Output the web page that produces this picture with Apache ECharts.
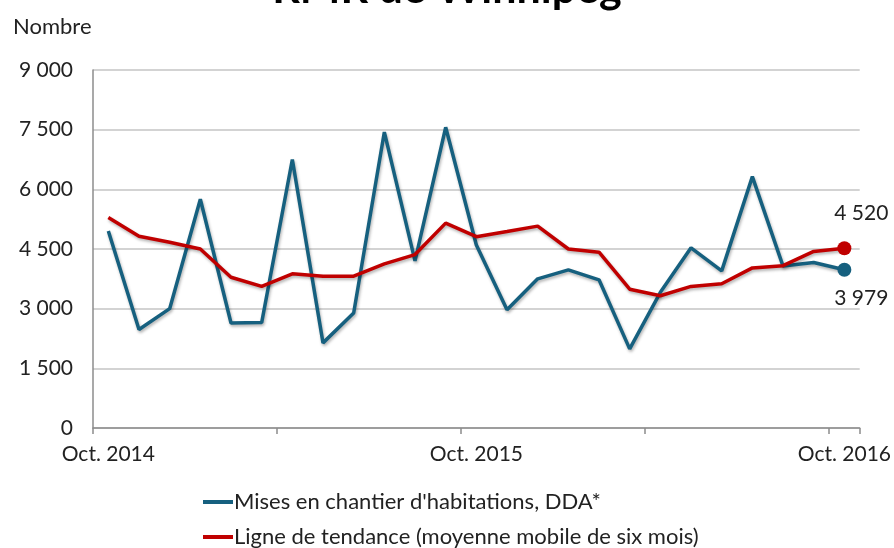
<!DOCTYPE html>
<html>
<head>
<meta charset="utf-8">
<script src="https://cdn.jsdelivr.net/npm/echarts@6/dist/echarts.min.js"></script>
<style>
html,body{margin:0;padding:0;background:#fff;}
#c{width:894px;height:548px;}
</style>
</head>
<body>
<div id="c"></div>
<script>
const titleText = 'RMR de Winnipeg';
const yAxisName = 'Nombre';
const categories = ['Oct. 2014','Nov. 2014','Déc. 2014','Janv. 2015','Févr. 2015','Mars 2015','Avr. 2015','Mai 2015','Juin 2015','Juil. 2015','Août 2015','Sept. 2015','Oct. 2015','Nov. 2015','Déc. 2015','Janv. 2016','Févr. 2016','Mars 2016','Avr. 2016','Mai 2016','Juin 2016','Juil. 2016','Août 2016','Sept. 2016','Oct. 2016'];
const starts = [4950,2475,3000,5750,2640,2650,6750,2140,2890,7440,4200,7560,4600,2975,3750,3975,3725,1990,3410,4530,3950,6320,4070,4160,3979];
const trend = [5290,4820,4670,4500,3790,3560,3875,3815,3815,4125,4360,5150,4810,4940,5075,4500,4420,3490,3325,3560,3625,4025,4080,4440,4520];
const seriesNames = ["Mises en chantier d'habitations, DDA*", 'Ligne de tendance (moyenne mobile de six mois)'];

const FONT = 'Lato';
const fmt = v => String(v).replace(/\B(?=(\d{3})+(?!\d))/g, ' ');
const last = categories.length - 1;

const chart = echarts.init(document.getElementById('c'));
chart.setOption({
  animation: false,
  backgroundColor: '#fff',
  title: {
    text: titleText, left: 'center', top: -37,
    textStyle: {fontFamily: FONT, fontSize: 43, fontWeight: 'bold', color: '#000'}
  },
  grid: {left: 93, right: 34, top: 70, bottom: 120},
  legend: {
    orient: 'vertical', left: 203, top: 491, padding: 0,
    icon: 'rect', itemWidth: 30, itemHeight: 4, itemGap: 13,
    textStyle: {fontFamily: FONT, fontSize: 22, color: '#222', lineHeight: 22, padding: [0,0,0,-4]},
    data: seriesNames
  },
  xAxis: {
    type: 'category', data: categories, boundaryGap: true,
    axisLine: {lineStyle: {color: '#8c8c8c', width: 1.5}},
    axisTick: {show: true, interval: (i) => i % 6 === 0, length: 6, lineStyle: {color: '#8c8c8c', width: 1.5}},
    axisLabel: {interval: (i) => i % 12 === 0, fontFamily: FONT, fontSize: 21, color: '#222', margin: 16},
    splitLine: {show: false}
  },
  yAxis: {
    type: 'value', min: 0, max: 9000, interval: 1500,
    name: yAxisName, nameLocation: 'end', nameGap: 0,
    nameTextStyle: {fontFamily: FONT, fontSize: 22, color: '#222', align: 'left', padding: [0,0,32,-80]},
    axisLine: {show: true, lineStyle: {color: '#8c8c8c', width: 1.5}},
    axisTick: {show: false},
    axisLabel: {fontFamily: FONT, fontSize: 21, color: '#222', margin: 20, formatter: v => fmt(v)},
    splitLine: {lineStyle: {color: '#c4c4c4', width: 1.5}}
  },
  series: [
    {
      name: seriesNames[0], type: 'line', data: starts,
      color: '#16607f',
      lineStyle: {width: 3.5, color: '#16607f', shadowColor: 'rgba(0,0,0,0.3)', shadowBlur: 3, shadowOffsetX: 1, shadowOffsetY: 2},
      symbol: 'circle', showSymbol: true, showAllSymbol: true,
      symbolSize: (v, p) => p.dataIndex === last ? 14 : 0,
      itemStyle: {color: '#16607f'},
      label: {show: true, position: 'bottom', offset: [17, 6], fontFamily: FONT, fontSize: 21, color: '#222',
        formatter: p => p.dataIndex === last ? fmt(p.value) : ''},
      z: 2
    },
    {
      name: seriesNames[1], type: 'line', data: trend,
      color: '#c00000',
      lineStyle: {width: 3.5, color: '#c00000', shadowColor: 'rgba(0,0,0,0.3)', shadowBlur: 3, shadowOffsetX: 1, shadowOffsetY: 2},
      symbol: 'circle', showSymbol: true, showAllSymbol: true,
      symbolSize: (v, p) => p.dataIndex === last ? 14 : 0,
      itemStyle: {color: '#c00000'},
      label: {show: true, position: 'top', offset: [17, -12], fontFamily: FONT, fontSize: 21, color: '#222',
        formatter: p => p.dataIndex === last ? fmt(p.value) : ''},
      z: 3
    }
  ]
});
</script>
</body>
</html>
